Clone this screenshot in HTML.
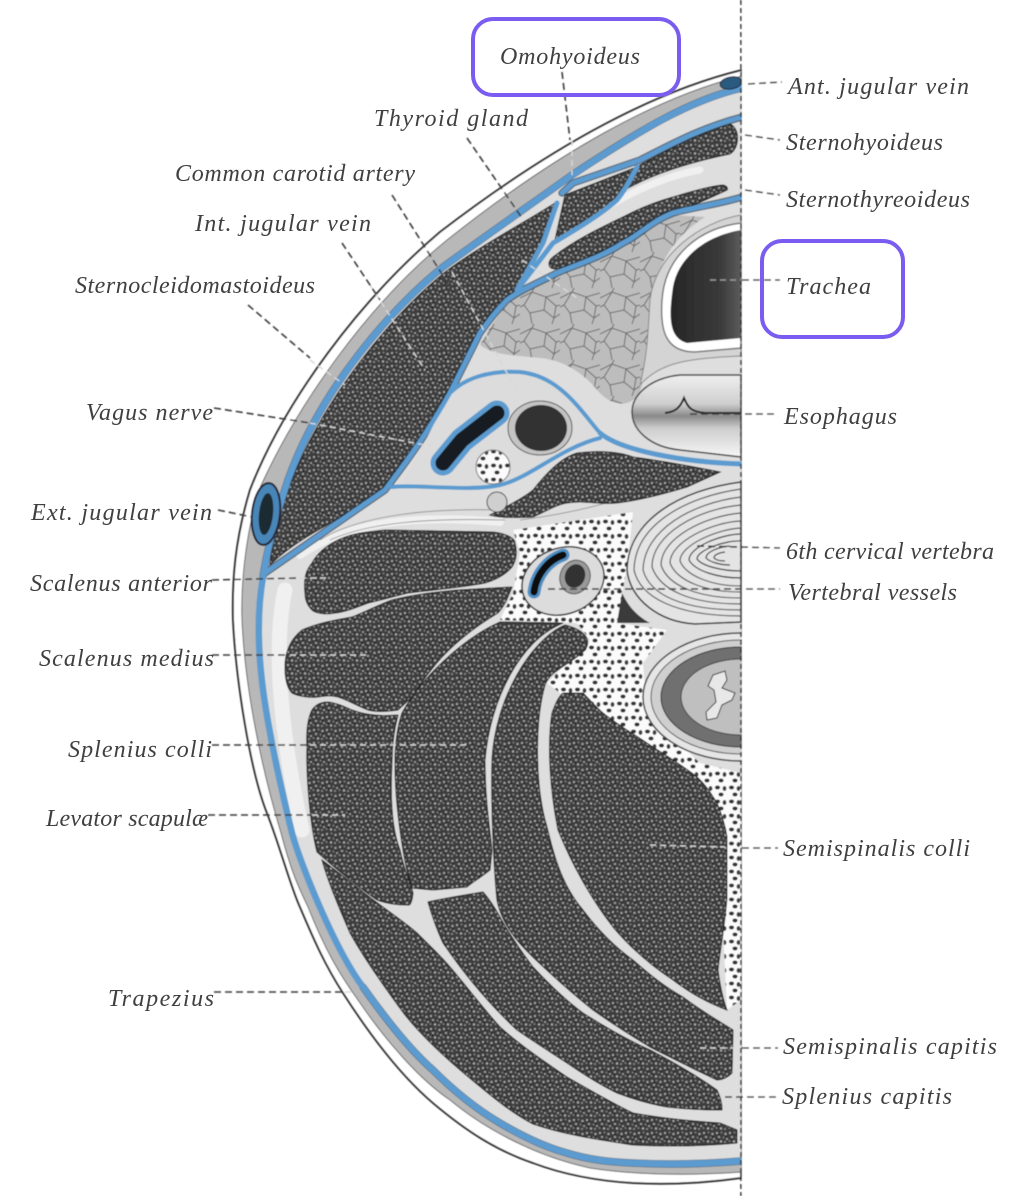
<!DOCTYPE html>
<html><head><meta charset="utf-8"><style>
html,body{margin:0;padding:0;background:#fff}
svg{display:block}
text{font-family:"Liberation Serif",serif;font-style:italic;font-size:24px;fill:#404040}
</style></head><body>
<svg width="1018" height="1196" viewBox="0 0 1018 1196" xmlns="http://www.w3.org/2000/svg">
<defs>
<pattern id="m" width="13" height="13" patternUnits="userSpaceOnUse">
<rect width="13" height="13" fill="#3c3c3c"/>
<circle cx="2" cy="2" r="1.1" fill="#a8a8a8"/><circle cx="6.5" cy="1.5" r=".9" fill="#8a8a8a"/><circle cx="10.5" cy="3" r="1.2" fill="#a0a0a0"/>
<circle cx="4" cy="6" r="1.2" fill="#9a9a9a"/><circle cx="8.5" cy="6.5" r=".9" fill="#888"/><circle cx="12" cy="8" r="1" fill="#a4a4a4"/>
<circle cx="1.5" cy="10" r=".9" fill="#8c8c8c"/><circle cx="6" cy="10.5" r="1.2" fill="#a8a8a8"/><circle cx="10" cy="11" r="1" fill="#8e8e8e"/>
<circle cx="4" cy="3.5" r=".8" fill="#1c1c1c"/><circle cx="11" cy="5.5" r=".8" fill="#1c1c1c"/><circle cx="3.5" cy="8.5" r=".8" fill="#1c1c1c"/>
</pattern>
<pattern id="f" width="14" height="14" patternUnits="userSpaceOnUse">
<rect width="14" height="14" fill="#fbfbfb"/>
<ellipse cx="3.5" cy="3.5" rx="2.6" ry="2" fill="#333"/><ellipse cx="10.5" cy="4.5" rx="1.9" ry="2.5" fill="#3c3c3c"/><ellipse cx="7" cy="10.5" rx="2.6" ry="2" fill="#333"/>
</pattern>
<pattern id="t" width="40" height="36" patternUnits="userSpaceOnUse">
<rect width="40" height="36" fill="#bdbdbd"/>
<path d="M0 10 L12 4 L26 9 L40 5 M12 4 L14 0 M26 9 L24 22 L34 30 L40 26 M24 22 L10 25 L4 17 L12 4 M4 17 L0 19 M10 25 L12 36 M34 30 L32 36 M26 9 L36 18 L34 30 M36 18 L40 17" stroke="#6a6a6a" stroke-width="1" fill="none"/>
</pattern>
<linearGradient id="e" x1="0" y1="0" x2="0" y2="1">
<stop offset="0" stop-color="#efefef"/><stop offset=".35" stop-color="#cfcfcf"/><stop offset=".5" stop-color="#8a8a8a"/><stop offset=".65" stop-color="#cdcdcd"/><stop offset="1" stop-color="#f7f7f7"/>
</linearGradient>
<linearGradient id="tr" x1="0" y1="0" x2="1" y2="0">
<stop offset="0" stop-color="#262626"/><stop offset=".7" stop-color="#3a3a3a"/><stop offset="1" stop-color="#5c5c5c"/>
</linearGradient>
<filter id="b" x="0" y="0" width="100%" height="100%"><feGaussianBlur stdDeviation=".6"/></filter>
</defs>

<g filter="url(#b)">
<!-- skin -->
<path d="M742,70 C660,90 560,140 440,232 C360,300 285,400 250,490 C235,540 232,580 233,620 C236,680 250,770 267,813 C280,846 290,885 300,907 C314,940 325,965 343,993 C370,1035 400,1075 433,1103 C465,1130 495,1150 533,1163 C565,1175 600,1181 633,1183 C670,1185 705,1183 741,1178 Z" fill="#fff" stroke="#333" stroke-width="2"/>
<path d="M742,76 C660,96 560,150 447,240 C367,305 297,405 259,490 C244,540 241,590 242,620 C245,690 262,770 281,833 C292,875 300,890 308,907 C325,950 340,975 358,1000 C385,1040 420,1080 450,1100 C480,1125 530,1155 590,1168 C640,1176 700,1175 742,1172 Z" fill="#b8b8b8" stroke="#666" stroke-width="1"/>
<!-- body interior -->
<path d="M742,88 C690,100 640,130 572,175 C530,205 480,240 443,267 C390,310 320,390 288,480 C278,510 268,545 263,577 C252,640 262,710 292,833 C300,863 335,950 363,987 C385,1018 410,1050 433,1070 C455,1092 478,1110 500,1123 C522,1136 545,1147 567,1153 C590,1160 610,1162 633,1163 C670,1165 705,1164 741,1161 Z" fill="#dedede"/>
<!-- lighter fibrous areas -->
<g fill="none" stroke="#f0f0f0" stroke-linecap="round">
<path d="M285,590 C272,650 282,740 302,830" stroke-width="15"/>
<path d="M300,555 C350,520 420,515 500,522" stroke-width="8"/>
<path d="M700,170 C670,175 640,188 610,205" stroke-width="7"/>
</g>
<g fill="none" stroke="#8a8a8a" stroke-width=".8">
<path d="M320,540 C360,515 430,508 500,510"/><path d="M330,540 C370,522 430,518 505,520"/>
<path d="M520,520 C560,515 610,505 660,485"/>
<path d="M645,165 C680,150 700,125 735,118"/>
</g>

<!-- thyroid -->
<path d="M480,345 C490,325 505,305 520,292 C540,282 550,276 557,273 C600,258 640,235 673,215 L705,217 C668,240 652,275 649,320 C647,355 645,385 637,397 C625,408 610,405 597,390 C585,375 565,360 540,358 C515,355 495,356 480,345Z" fill="url(#t)"/>
<!-- trachea -->
<path d="M741,215 C700,222 655,255 650,300 C648,330 648,352 640,385 C660,362 690,358 741,356Z" fill="#d4d4d4" stroke="#888" stroke-width="1"/>
<path d="M741,223 C700,228 665,255 662,300 C660,330 665,352 695,352 L741,348Z" fill="#fff" stroke="#777" stroke-width="1.5"/>
<path d="M741,230 C705,236 678,258 673,287 C669,315 668,338 687,343 L741,338Z" fill="url(#tr)"/>
<!-- esophagus -->
<path d="M741,375 H680 C650,378 632,395 632,412 C632,430 650,447 680,450 L741,457 Z" fill="url(#e)" stroke="#444" stroke-width="1.5"/>
<path d="M665,413 C675,412 680,408 684,398 C688,408 692,412 705,413 H741" stroke="#222" stroke-width="2" fill="none"/>

<!-- fat -->
<path d="M513,530 L633,512 L627,567 L617,623 L667,630 L643,663 L647,713 L700,763 L741,773 L741,1000 L727,1010 L717,803 L680,770 L620,730 L590,700 L560,693 L547,683 L590,640 L577,623 L500,620 L513,593 L520,553Z" fill="url(#f)"/>

<!-- vertebra -->
<path d="M741,482 C680,490 628,520 627,570 C630,600 660,622 695,624 L741,622Z" fill="#e4e4e4" stroke="#333" stroke-width="1.5"/>
<g fill="none" stroke="#555" stroke-width="1.2">
<path d="M741,489 C685,497 635,525 634,570 C640,597 675,616 741,616"/>
<path d="M741,497 C692,503 644,530 643,570 C650,595 682,610 741,610"/>
<path d="M741,505 C698,509 652,534 652,567 C660,590 690,604 741,604"/>
<path d="M741,513 C705,516 661,538 661,565 C668,586 698,598 741,598"/>
<path d="M741,521 C712,522 670,542 670,563 C677,581 705,592 741,592"/>
<path d="M741,528 C718,529 680,545 680,561 C686,576 712,586 741,586"/>
<path d="M741,534 C722,534 689,547 689,560 C695,571 718,578 741,578" stroke="#333"/>
<path d="M741,541 C726,540 697,550 697,559 C702,566 722,571 741,571" stroke="#333"/>
<path d="M730,546 C718,547 706,552 706,558 C710,562 720,565 730,565" stroke="#333"/>
<path d="M725,552 C718,553 714,555 714,558 C716,560 720,561 725,561" stroke="#333"/>
</g>
<path d="M622,593 L617,623 L650,623 C635,615 628,605 622,593Z" fill="#3a3a3a"/>
<!-- spinal -->
<ellipse cx="741" cy="697" rx="98" ry="64" fill="#e6e6e6" stroke="#444" stroke-width="1.5"/>
<ellipse cx="741" cy="697" rx="90" ry="57" fill="#cfcfcf" stroke="#555"/>
<ellipse cx="741" cy="697" rx="80" ry="50" fill="#707070" stroke="#333"/>
<ellipse cx="741" cy="697" rx="60" ry="38" fill="#bfbfbf" stroke="#444"/>
<path d="M713,675 L725,671 L727,680 L722,688 L735,693 L732,700 L722,705 L717,718 L707,720 L706,712 L716,702 L714,690 L708,686Z" fill="#e8e8e8" stroke="#333"/>
<rect x="742" y="600" width="30" height="260" fill="#fff"/>

<!-- muscles -->
<g fill="url(#m)" stroke="#1c1c1c" stroke-width="1">
<path d="M555,203 L540,245 L517,290 C505,305 490,320 480,333 L450,393 L400,470 L385,490 C350,515 300,535 270,565 C272,540 280,505 292,480 C325,395 392,315 445,272 C480,246 520,225 555,203Z"/>
<path d="M640,165 C680,142 710,130 730,124 C740,128 740,148 730,154 C700,160 665,170 640,182 C628,188 618,193 612,198Z"/>
<path d="M565,195 L634,168 C625,190 615,205 600,215 C585,225 565,235 555,240Z"/>
<path d="M553,257 C575,240 600,228 623,217 C640,208 655,202 673,197 C690,192 710,186 723,185 C728,186 728,190 727,190 C710,198 690,207 673,213 C655,222 640,235 623,243 C600,255 580,263 560,268 C548,272 546,262 553,257Z"/>
<path d="M490,515 C510,505 525,497 533,490 C545,475 560,458 577,453 C600,450 620,452 633,457 C670,462 700,468 720,472 L687,487 C660,495 640,500 617,503 C600,505 585,500 567,503 C555,505 545,512 533,517 C515,518 500,518 490,515Z"/>
<path d="M305,593 C303,575 308,568 312,563 C318,552 328,545 338,540 C355,532 370,532 385,530 L492,532 C505,533 515,538 515,543 C518,555 515,562 512,567 C505,575 495,580 485,583 C460,588 430,590 408,593 C395,596 382,600 368,603 C355,608 345,612 335,613 C325,615 315,613 312,610 C307,605 305,600 305,593Z"/>
<path d="M285,667 C285,650 292,638 302,630 C318,623 335,620 352,617 C365,612 378,605 392,600 C415,594 438,592 458,590 L512,587 C508,597 505,605 498,613 C478,625 458,640 442,657 C430,670 420,685 412,697 L398,710 C385,712 375,712 368,710 C355,705 348,700 338,697 C330,695 325,696 318,697 C308,698 298,696 292,693 C287,688 285,678 285,667Z"/>
<path d="M307,747 C306,730 308,718 312,710 C316,704 322,702 328,702 C337,703 345,707 352,710 C368,716 384,716 398,715 C394,730 392,745 392,763 C390,800 392,830 400,850 C404,870 410,882 413,893 C412,903 410,906 407,905 C395,905 385,903 377,900 C355,885 335,868 317,852 C310,825 306,775 307,747Z"/>
<path d="M402,713 C420,680 460,640 500,622 L563,623 C520,640 490,700 485,760 C485,800 490,830 492,850 L490,870 C480,878 470,884 467,887 L433,890 L412,888 C405,870 395,810 395,763 C395,740 398,725 402,713Z"/>
<path d="M565,625 C585,630 592,640 585,650 C570,665 550,670 545,685 C535,720 535,780 545,820 C548,830 550,840 553,850 C560,875 570,895 583,910 C598,930 615,947 633,960 C650,975 665,987 683,997 C700,1010 717,1020 733,1030 L732,1073 C727,1078 722,1080 717,1080 C695,1070 672,1058 650,1047 C630,1035 610,1022 593,1010 C578,998 563,985 550,973 C538,962 527,952 517,940 C507,928 500,915 497,900 C493,860 491,800 492,760 C495,700 530,640 565,625Z"/>
<path d="M563,693 L583,693 C590,700 596,707 603,713 C618,725 632,733 647,743 C665,755 682,765 697,777 C706,785 712,795 717,803 C722,815 725,825 727,837 L727,897 C725,925 720,950 718,970 C720,985 723,1000 727,1010 C708,1003 690,993 673,980 C650,965 630,947 613,927 C592,900 572,865 558,830 C550,790 547,745 552,713 C555,705 558,697 563,693Z"/>
<path d="M428,902 C445,898 465,895 483,892 C490,900 495,908 500,917 C510,935 520,950 533,967 C548,983 565,1000 583,1013 C605,1027 628,1040 650,1050 C675,1063 697,1076 717,1090 C720,1096 722,1103 722,1110 C705,1110 685,1109 667,1107 C650,1104 633,1099 617,1093 C600,1085 583,1074 567,1063 C550,1052 533,1041 517,1030 C502,1016 487,1000 473,983 C462,970 452,956 443,943 C437,930 432,916 428,902Z"/>
<path d="M322,860 C340,873 362,892 383,907 C395,916 407,924 417,933 C428,944 440,955 450,967 C467,987 483,1008 500,1027 C520,1045 545,1062 567,1077 C590,1090 612,1103 633,1113 C660,1118 690,1121 720,1123 L737,1130 L737,1143 C705,1146 670,1147 633,1145 C600,1140 565,1135 533,1124 C510,1112 490,1095 472,1080 C450,1062 425,1040 405,1015 C385,988 365,960 350,933 C340,910 328,882 322,860Z"/>
</g>

<!-- fascia lines -->
<g fill="none" stroke="#1c2c3c" stroke-width="7.5" stroke-linecap="round" stroke-linejoin="round" opacity=".65">
<path d="M742,88 C690,100 640,130 572,175 C530,205 480,240 443,267 C390,310 320,390 288,480 C278,510 268,545 263,577"/>
<path d="M742,117 C700,128 670,145 640,160 L573,183 L562,193"/>
<path d="M742,197 C720,204 695,207 673,213 C650,222 640,235 623,243 C600,258 575,265 557,273 C540,282 520,290 507,300 C495,312 488,322 480,333 L450,393 C435,420 415,450 400,470 L385,490 L265,573"/>
<path d="M363,987 C385,1018 410,1050 433,1070 C455,1092 478,1110 500,1123 C522,1136 545,1147 567,1153 C590,1160 610,1162 633,1163 C670,1165 705,1164 741,1161"/>
</g>
<g fill="none" stroke="#5b9bd0" stroke-width="5" stroke-linecap="round" stroke-linejoin="round">
<path d="M742,88 C690,100 640,130 572,175 C530,205 480,240 443,267 C390,310 320,390 288,480 C278,510 268,545 263,577 C252,640 262,710 292,833 C300,863 335,950 363,987 C385,1018 410,1050 433,1070 C455,1092 478,1110 500,1123 C522,1136 545,1147 567,1153 C590,1160 610,1162 633,1163 C670,1165 705,1164 741,1161" stroke-width="6.5"/>
<path d="M742,117 C700,128 670,145 640,160 L573,183 L562,193"/>
<path d="M637,167 C630,180 625,190 617,200 C600,215 575,230 553,243 L517,290"/>
<path d="M557,203 L543,243 L517,290"/>
<path d="M742,197 C720,204 695,207 673,213 C650,222 640,235 623,243 C600,258 575,265 557,273 C540,282 520,290 507,300 C495,312 488,322 480,333 L450,393 C435,420 415,450 400,470 L385,490 L265,573"/>
<path d="M600,433 C620,450 680,462 742,464" stroke-width="5"/>
</g>
<path d="M450,393 C465,378 490,370 520,372 C560,376 580,410 600,433 C565,445 530,475 500,484 C470,490 420,484 402,482 C420,455 435,420 450,393Z" fill="#dcdcdc"/>
<g fill="none" stroke="#5b9bd0" stroke-width="4" stroke-linecap="round">
<path d="M450,393 C465,378 490,370 520,372 C560,376 580,410 600,433"/>
<path d="M392,487 C415,484 470,492 500,485 C530,478 560,448 600,438"/>
<path d="M450,393 C435,420 415,450 400,470"/>
</g>

<!-- carotid sheath -->
<ellipse cx="540" cy="428" rx="32" ry="27" fill="#c4c4c4" stroke="#555"/>
<ellipse cx="541" cy="428" rx="26" ry="23" fill="#303030"/>
<path d="M443,463 L462,440 L497,413" stroke="#5b9bd0" stroke-width="25" stroke-linecap="round" fill="none"/>
<path d="M443,463 L462,440 L497,413" stroke="#141c24" stroke-width="15" stroke-linecap="round" fill="none"/>
<circle cx="493" cy="467" r="17" fill="url(#f)" stroke="#777"/>
<circle cx="497" cy="502" r="10" fill="#cfcfcf" stroke="#444"/>
<!-- vertebral vessels -->
<ellipse cx="563" cy="581" rx="42" ry="33" fill="#dcdcdc" stroke="#333" stroke-width="1.5" transform="rotate(-20 563 581)"/>
<path d="M534,592 C536,575 548,560 563,555" stroke="#4f8fc4" stroke-width="13" stroke-linecap="round" fill="none"/>
<path d="M534,592 C536,575 548,560 563,555" stroke="#111" stroke-width="7" stroke-linecap="round" fill="none"/>
<ellipse cx="575" cy="577" rx="15" ry="17" fill="#999" stroke="#555" transform="rotate(20 575 577)"/>
<ellipse cx="575" cy="576" rx="10" ry="12" fill="#333" transform="rotate(20 575 576)"/>
<!-- ext jugular -->
<ellipse cx="266" cy="514" rx="14" ry="31" fill="#4a86b8" stroke="#223" stroke-width="2" transform="rotate(6 266 514)"/>
<ellipse cx="266" cy="514" rx="7" ry="21" fill="#1f2a33" transform="rotate(6 266 514)"/>
<!-- ant jugular -->
<ellipse cx="731" cy="83" rx="11" ry="6" fill="#2c5a80" stroke="#223" transform="rotate(-10 731 83)"/>

<!-- midline -->
<rect x="742" y="0" width="280" height="1196" fill="#fff"/>
<path d="M741,0 V1196" stroke="#333" stroke-width="1.6" stroke-dasharray="5 3" fill="none"/>

<!-- connectors over tissue (light) -->
<g fill="none" stroke="#d8d8d8" stroke-width="1.4" stroke-dasharray="6 4">
<path d="M300,578 L330,578"/>
<path d="M290,655 L370,655"/>
<path d="M310,745 L470,745"/>
<path d="M312,815 L345,815"/>
<path d="M345,992 L355,992"/>
<path d="M310,423 L430,446"/>
<path d="M310,360 L345,385"/>
<path d="M370,285 L425,370"/>
<path d="M452,272 L520,397"/>
<path d="M522,260 L580,300"/>
<path d="M572,140 L572,175"/>
<path d="M650,845 L725,847"/>
<path d="M700,1048 L735,1048"/>
<path d="M710,280 L741,280" stroke="#999"/>
</g>
<!-- connectors -->
<g fill="none" stroke="#3c3c3c" stroke-width="1.6" stroke-dasharray="7 4">
<path d="M562,72 L570,140"/>
<path d="M467,138 L522,218"/>
<path d="M392,195 L452,290"/>
<path d="M342,243 L380,300"/>
<path d="M248,305 L310,358"/>
<path d="M214,408 L310,423"/>
<path d="M218,510 L252,517"/>
<path d="M212,580 L300,578"/>
<path d="M212,655 L290,655"/>
<path d="M212,745 L310,745"/>
<path d="M208,815 L312,815"/>
<path d="M214,992 L345,992"/>
<path d="M748,84 L782,82"/>
<path d="M745,135 L780,140"/>
<path d="M745,190 L780,195"/>
<path d="M742,280 L780,280"/>
<path d="M690,414 L778,414"/>
<path d="M697,546 L780,548"/>
<path d="M548,589 L780,589"/>
<path d="M742,848 L778,848"/>
<path d="M742,1048 L778,1048"/>
<path d="M725,1097 L778,1097"/>
</g>
</g>

<!-- highlight boxes -->
<rect x="473" y="19" width="206" height="76" rx="20" fill="none" stroke="#7a5cf0" stroke-width="4"/>
<rect x="762" y="241" width="141" height="96" rx="20" fill="none" stroke="#7a5cf0" stroke-width="4"/>

<!-- labels -->
<text x="500" y="64" textLength="140">Omohyoideus</text>
<text x="374" y="126" textLength="154">Thyroid gland</text>
<text x="175" y="181" textLength="240">Common carotid artery</text>
<text x="195" y="231" textLength="176">Int. jugular vein</text>
<text x="75" y="293" textLength="240">Sternocleidomastoideus</text>
<text x="86" y="420" textLength="127">Vagus nerve</text>
<text x="31" y="520" textLength="181">Ext. jugular vein</text>
<text x="30" y="591" textLength="182">Scalenus anterior</text>
<text x="39" y="666" textLength="175">Scalenus medius</text>
<text x="68" y="757" textLength="144">Splenius colli</text>
<text x="46" y="826" textLength="162">Levator scapulæ</text>
<text x="108" y="1006" textLength="106">Trapezius</text>
<text x="788" y="94" textLength="181">Ant. jugular vein</text>
<text x="786" y="150" textLength="157">Sternohyoideus</text>
<text x="786" y="207" textLength="184">Sternothyreoideus</text>
<text x="786" y="294" textLength="85">Trachea</text>
<text x="784" y="424" textLength="113">Esophagus</text>
<text x="786" y="559" textLength="208">6th cervical vertebra</text>
<text x="788" y="600" textLength="169">Vertebral vessels</text>
<text x="783" y="856" textLength="187">Semispinalis colli</text>
<text x="783" y="1054" textLength="214">Semispinalis capitis</text>
<text x="782" y="1104" textLength="170">Splenius capitis</text>
</svg>
</body></html>
